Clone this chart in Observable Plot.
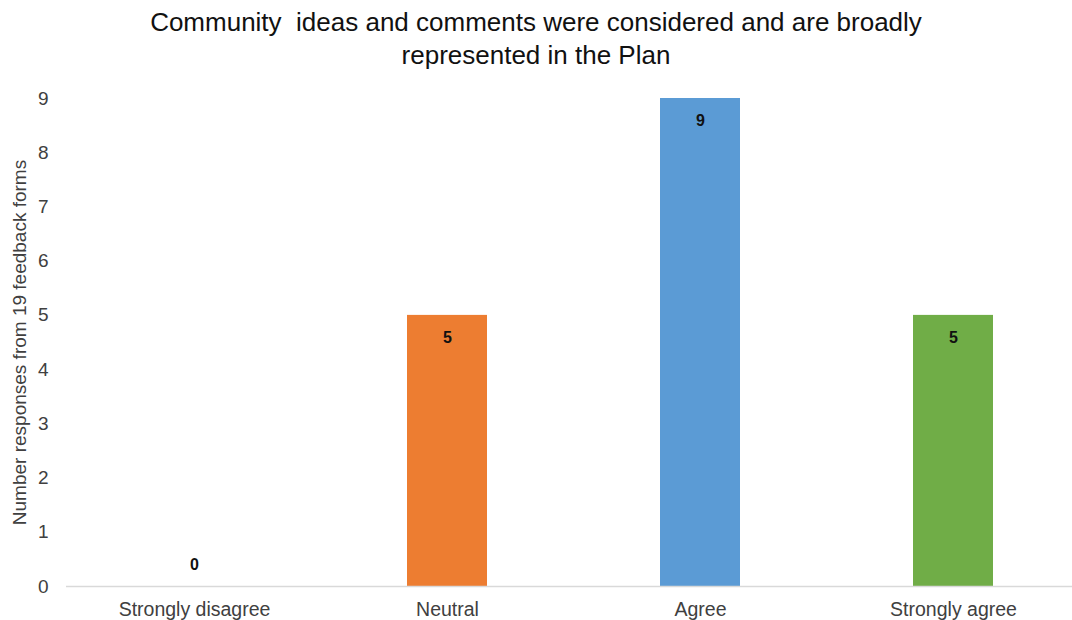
<!DOCTYPE html>
<html>
<head>
<meta charset="utf-8">
<script src="https://cdn.jsdelivr.net/npm/d3@7"></script>
<script src="https://cdn.jsdelivr.net/npm/@observablehq/plot@0.6"></script>
<style>
  body { margin: 0; background: #fff; font-family: "Liberation Sans", Arial, sans-serif; }
  #title { box-sizing: border-box; height: 75px; padding-top: 6px; text-align: center; font-size: 26px; line-height: 33px; color: #111; white-space: pre; }
</style>
</head>
<body>
<div id="title">Community  ideas and comments were considered and are broadly
represented in the Plan</div>
<div id="chart"></div>
<script>
const categories = ["Strongly disagree", "Neutral", "Agree", "Strongly agree"];
const counts = [0, 5, 9, 5];
const colors = ["#A5A5A5", "#ED7D31", "#5B9BD5", "#70AD47"];
const yTicks = [0, 1, 2, 3, 4, 5, 6, 7, 8, 9];
const yLabel = "Number responses from 19 feedback forms";

const data = categories.map((c, i) => ({category: c, value: counts[i], color: colors[i]}));

const chart = Plot.plot({
  width: 1072,
  height: 545,
  marginTop: 23,
  marginBottom: 34,
  marginLeft: 66,
  marginRight: 0,
  style: {fontFamily: "'Liberation Sans', Arial, sans-serif", fontSize: "19px", color: "#404040", background: "#fff"},
  x: {domain: categories, range: [66, 1080], paddingInner: 0.685, paddingOuter: 0.3425, label: null},
  y: {domain: [0, 9], label: null},
  marks: [
    Plot.barY(data, {x: "category", y: "value", fill: "color"}),
    Plot.ruleY([0], {stroke: "#D9D9D9", strokeWidth: 1.5}),
    Plot.text(data.filter(d => d.value > 0), {x: "category", y: "value", text: d => String(d.value), dy: 22, fontWeight: "bold", fontSize: 16, fill: "#111", lineAnchor: "middle"}),
    Plot.text(data.filter(d => d.value === 0), {x: "category", y: "value", text: d => String(d.value), dy: -22, fontWeight: "bold", fontSize: 16, fill: "#111", lineAnchor: "middle"}),
    Plot.axisX({tickSize: 0, tickPadding: 16, fontSize: 19.5, label: null}),
    Plot.axisY({ticks: yTicks, tickSize: 0, tickPadding: 18, fontSize: 19, label: yLabel, labelAnchor: "center", labelArrow: "none", labelOffset: 54, style: {fontSize: "20px"}})
  ]
});
document.getElementById("chart").appendChild(chart);
</script>
</body>
</html>
